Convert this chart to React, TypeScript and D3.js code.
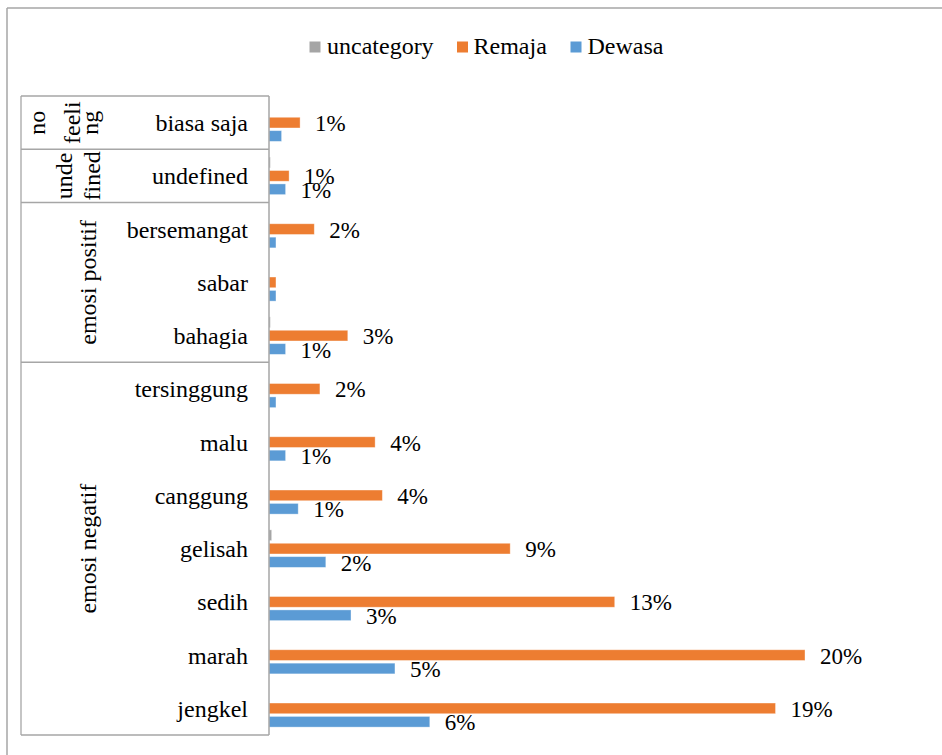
import React from "react";
import * as d3 from "d3";

const categories = ["biasa saja", "undefined", "bersemangat", "sabar", "bahagia", "tersinggung", "malu", "canggung", "gelisah", "sedih", "marah", "jengkel"];
const seriesNames = ["uncategory", "Remaja", "Dewasa"];
const uncategory = [0, 0.0005, 0, 0, 0.0005, 0, 0, 0, 0.001, 0, 0, 0];
const remaja = [0.0116, 0.0075, 0.0169, 0.0026, 0.0294, 0.019, 0.0396, 0.0423, 0.09, 0.129, 0.2, 0.189];
const dewasa = [0.0047, 0.0062, 0.0026, 0.0026, 0.0062, 0.0026, 0.0062, 0.0109, 0.0212, 0.0306, 0.047, 0.06];
const groupLines = [["no", "feeli", "ng"], ["unde", "fined"], ["emosi positif"], ["emosi negatif"]];
const groupSizes = [1, 1, 3, 7];
const colors = ["#A5A5A5", "#ED7D31", "#5B9BD5"];

const W = 942, H = 755;

export default function App() {
  const seriesData = [uncategory, remaja, dewasa];
  const axisX = 269, plotRight = 939, top = 96, bottom = 735, boxLeft = 21;
  const x = d3.scaleLinear().domain([0, 0.25]).range([axisX, plotRight]);
  const y = d3.scaleBand<string>().domain(categories).range([top, bottom]).padding(0);
  const bw = y.bandwidth();
  const groupH = 37.5;
  const inner = d3.scaleBand<string>().domain(seriesNames).range([-groupH / 2, groupH / 2]).paddingInner(0.2).paddingOuter(0);
  const fmt = d3.format(".0%");

  const bounds: number[] = [];
  let acc = 0;
  groupSizes.forEach((s) => { bounds.push(acc); acc += s; });
  bounds.push(acc);

  const lineX: number[][] = [[45, 80, 98], [72, 100], [96], [96]];
  const legendSq = [309.5, 457, 570.5];
  const legendTx = [327, 473.5, 587.5];

  return (
    <svg width={W} height={H} style={{ position: "absolute", left: 0, top: 0, background: "#fff" }}>
      <style>{`text { font-family: "Liberation Serif"; }`}</style>
      <rect x={0} y={0} width={W} height={H} fill="#fff" />
      <line x1={7} y1={8} x2={W} y2={8} stroke="#A6A6A6" strokeWidth={1.5} />
      <line x1={7} y1={8} x2={7} y2={H} stroke="#A6A6A6" strokeWidth={1.5} />

      {seriesNames.map((s, i) => (
        <g key={s}>
          <rect x={legendSq[i]} y={41.5} width={11} height={11} fill={colors[i]} />
          <text x={legendTx[i]} y={53.5} fontSize={24} style={{ fontFamily: "Liberation Serif" }}>{s}</text>
        </g>
      ))}

      <line x1={boxLeft} y1={top} x2={axisX} y2={top} stroke="#A6A6A6" strokeWidth={1.3} />
      <line x1={boxLeft} y1={top} x2={boxLeft} y2={bottom} stroke="#A6A6A6" strokeWidth={1.3} />
      {bounds.slice(1).map((b, i) => {
        const yy = top + b * bw;
        return <line key={i} x1={boxLeft} y1={yy} x2={axisX} y2={yy} stroke="#A6A6A6" strokeWidth={1.3} />;
      })}

      {groupLines.map((lines, gi) => {
        const cy = top + ((bounds[gi] + bounds[gi + 1]) / 2) * bw;
        return lines.map((ln, li) => (
          <text key={gi + "-" + li} transform={`translate(${lineX[gi][li]},${cy}) rotate(-90)`} textAnchor="middle" fontSize={24} style={{ fontFamily: "Liberation Serif" }}>{ln}</text>
        ));
      })}

      {categories.map((c) => (
        <text key={c} x={248} y={(y(c) as number) + bw / 2 + 8.5} textAnchor="end" fontSize={24} style={{ fontFamily: "Liberation Serif" }}>{c}</text>
      ))}

      {seriesData.map((arr, si) =>
        arr.map((v, ci) => {
          const cy = (y(categories[ci]) as number) + bw / 2;
          const by = cy + (inner(seriesNames[si]) as number);
          const w = x(v) - axisX;
          if (w <= 0) return null;
          return <rect key={si + "-" + ci} x={axisX} y={by} width={w} height={inner.bandwidth()} fill={colors[si]} stroke="#fff" strokeOpacity={0.45} strokeWidth={0.8} />;
        })
      )}

      <line x1={axisX} y1={top} x2={axisX} y2={bottom} stroke="#A6A6A6" strokeWidth={1.5} />

      {seriesData.map((arr, si) =>
        si === 0 ? null : arr.map((v, ci) => {
          if (v < 0.005) return null;
          const cy = (y(categories[ci]) as number) + bw / 2;
          const by = cy + (inner(seriesNames[si]) as number) + inner.bandwidth() / 2;
          return <text key={"l" + si + "-" + ci} x={x(v) + 15} y={by + 8.5} fontSize={23} style={{ fontFamily: "Liberation Serif" }}>{fmt(v)}</text>;
        })
      )}
    </svg>
  );
}
